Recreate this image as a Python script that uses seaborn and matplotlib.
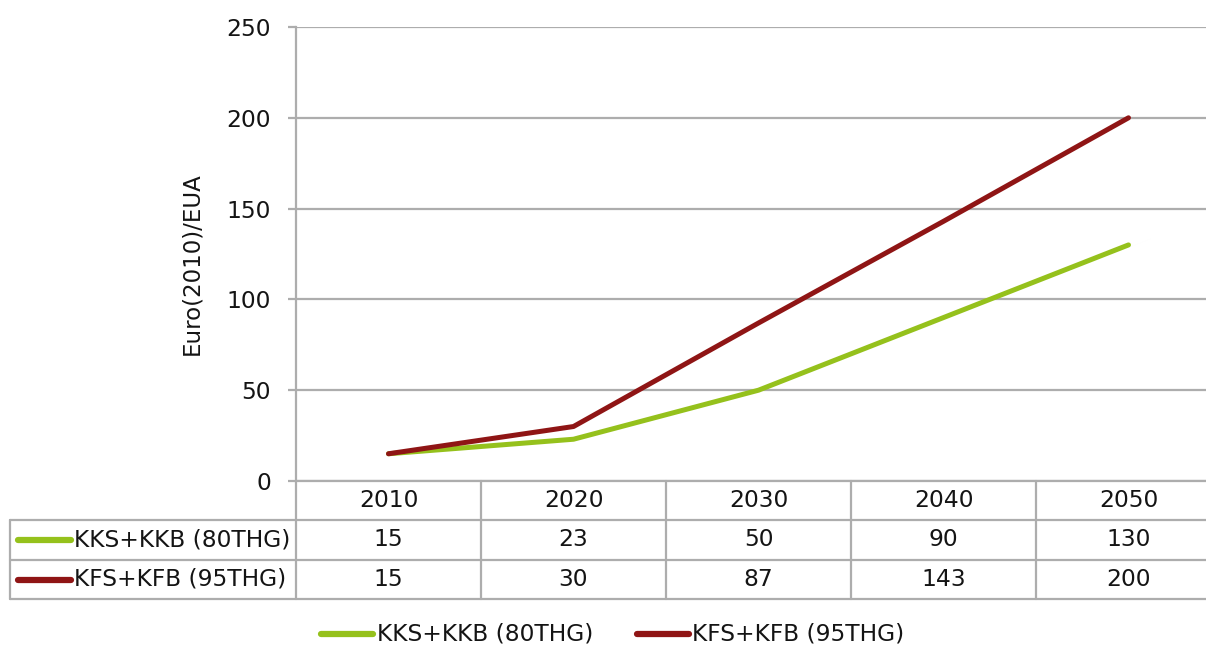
import matplotlib
matplotlib.use("Agg")
import matplotlib.pyplot as plt
import pandas as pd
import seaborn as sns
from matplotlib.lines import Line2D

years = ["2010", "2020", "2030", "2040", "2050"]
series_names = ["KKS+KKB (80THG)", "KFS+KFB (95THG)"]
kks_kkb = [15, 23, 50, 90, 130]
kfs_kfb = [15, 30, 87, 143, 200]
y_ticks = [0, 50, 100, 150, 200, 250]
y_label = "Euro(2010)/EUA"

colors = ["#95c11c", "#8f1515"]
grid_col = "#adadad"
txt_col = "#141414"
fs = 16.8

df = pd.DataFrame({
    "idx": list(range(len(years))) * 2,
    "value": kks_kkb + kfs_kfb,
    "series": [series_names[0]] * len(years) + [series_names[1]] * len(years),
})

sns.set_theme(style="white")
plt.rcParams["font.family"] = ["DejaVu Sans"]

W, H = 1206, 646
fig = plt.figure(figsize=(W / 100, H / 100), dpi=100)

# plot area in pixels: x 296..1221 (cropped on the right), y 27..481
x0, x1, ytop, ybot = 296, 1221, 27, 481
ax = fig.add_axes([x0 / W, 1 - ybot / H, (x1 - x0) / W, (ybot - ytop) / H])
sns.lineplot(data=df, x="idx", y="value", hue="series", palette=colors,
             linewidth=3.6, ax=ax, legend=False, solid_capstyle="round")
ax.set_xlim(-0.5, len(years) - 0.5)
ax.set_ylim(0, 250)
ax.set_yticks(y_ticks)
ax.set_xticks([])
ax.set_xlabel("")
ax.set_ylabel(y_label, fontsize=fs - 0.3, color=txt_col)
ax.yaxis.set_label_coords(-0.1005, 0.478)
ax.yaxis.grid(True, color=grid_col, linewidth=1.6)
ax.tick_params(axis="y", length=6, width=1.6, color=grid_col, labelsize=fs,
               pad=12, left=True, labelcolor=txt_col)
for s in ["top", "right", "bottom"]:
    ax.spines[s].set_visible(False)
ax.spines["left"].set_color(grid_col)
ax.spines["left"].set_linewidth(1.6)
ax.set_axisbelow(True)

# data table below the plot
tax = fig.add_axes([0, 0, 1, 1])
tax.set_xlim(0, W)
tax.set_ylim(H, 0)
tax.axis("off")
col_w = (x1 - x0) / len(years)
row_edges = [481, 520, 560, 599]
tleft = 10
for i, yy in enumerate(row_edges):
    xs = x0 if i == 0 else tleft
    tax.plot([xs, W + 20], [yy, yy], color=grid_col, lw=1.6, clip_on=False)
tax.plot([tleft, tleft], [row_edges[1], row_edges[-1]], color=grid_col, lw=1.6)
for j in range(len(years) + 1):
    xx = x0 + j * col_w
    tax.plot([xx, xx], [row_edges[0], row_edges[-1]], color=grid_col, lw=1.6,
             clip_on=False)

for j, yr in enumerate(years):
    tax.text(x0 + (j + 0.5) * col_w, (row_edges[0] + row_edges[1]) / 2, yr,
             ha="center", va="center", fontsize=fs, color=txt_col)
for r, vals in enumerate([kks_kkb, kfs_kfb]):
    yc = (row_edges[r + 1] + row_edges[r + 2]) / 2
    for j, v in enumerate(vals):
        tax.text(x0 + (j + 0.5) * col_w, yc, str(v), ha="center", va="center",
                 fontsize=fs, color=txt_col)
    tax.add_line(Line2D([18, 71], [yc, yc], color=colors[r], lw=4.5,
                        solid_capstyle="round"))
    tax.text(74, yc, series_names[r], ha="left", va="center", fontsize=fs,
             color=txt_col)

# legend at bottom
leg_y = 634
for r, (ls, ts) in enumerate([(321, 377), (637, 692)]):
    tax.add_line(Line2D([ls, ls + 52], [leg_y, leg_y], color=colors[r], lw=4.5,
                        solid_capstyle="round"))
    tax.text(ts, leg_y, series_names[r], ha="left", va="center", fontsize=fs,
             color=txt_col)

fig.savefig("out.png", dpi=100)
